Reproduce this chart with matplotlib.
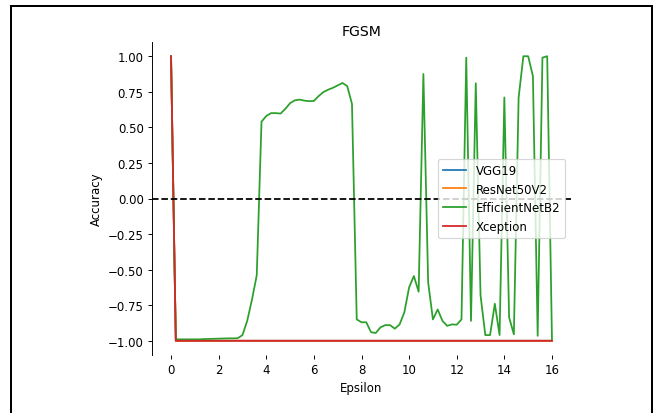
import matplotlib
matplotlib.use("Agg")
import matplotlib.pyplot as plt
from matplotlib.patches import Rectangle

epsilon = [0.0, 0.2, 0.4, 0.6, 0.8, 1.0, 1.2, 1.4, 1.6, 1.8,
           2.0, 2.2, 2.4, 2.6, 2.8, 3.0, 3.2, 3.4, 3.6, 3.8,
           4.0, 4.2, 4.4, 4.6, 4.8, 5.0, 5.2, 5.4, 5.6, 5.8,
           6.0, 6.2, 6.4, 6.6, 6.8, 7.0, 7.2, 7.4, 7.6, 7.8,
           8.0, 8.2, 8.4, 8.6, 8.8, 9.0, 9.2, 9.4, 9.6, 9.8,
           10.0, 10.2, 10.4, 10.6, 10.8, 11.0, 11.2, 11.4, 11.6, 11.8,
           12.0, 12.2, 12.4, 12.6, 12.8, 13.0, 13.2, 13.4, 13.6, 13.8,
           14.0, 14.2, 14.4, 14.6, 14.8, 15.0, 15.2, 15.4, 15.6, 15.8,
           16.0]

vgg19 = [1.0] + [-1.0] * 80
resnet50v2 = [1.0] + [-1.0] * 80
xception = [1.0] + [-1.0] * 80

efficientnetb2 = [1.0, -0.99, -0.99, -0.99, -0.99, -0.99, -0.99, -0.988, -0.987, -0.986,
                  -0.985, -0.984, -0.983, -0.983, -0.982, -0.96, -0.86, -0.71, -0.54, 0.54,
                  0.58, 0.60, 0.60, 0.597, 0.63, 0.67, 0.69, 0.695, 0.688, 0.684,
                  0.686, 0.72, 0.748, 0.765, 0.778, 0.795, 0.812, 0.79, 0.665, -0.85,
                  -0.87, -0.87, -0.94, -0.945, -0.905, -0.89, -0.89, -0.915, -0.885, -0.80,
                  -0.625, -0.545, -0.655, 0.875, -0.59, -0.85, -0.78, -0.86, -0.895, -0.885,
                  -0.887, -0.85, 0.99, -0.86, 0.81, -0.68, -0.96, -0.96, -0.74, -0.96,
                  0.71, -0.835, -0.955, 0.71, 1.0, 1.0, 0.86, -0.965, 0.99, 1.0,
                  -0.99]

series = [("VGG19", vgg19), ("ResNet50V2", resnet50v2),
          ("EfficientNetB2", efficientnetb2), ("Xception", xception)]

DPI = 85
fig = plt.figure(figsize=(659/DPI, 414/DPI), dpi=DPI)
ax = fig.add_axes([152/659, 1 - 356/414, (571-152)/659, (356-43)/414])

for name, vals in series:
    ax.plot(epsilon, vals, label=name, linewidth=1.5)

ax.axhline(0, color="black", linestyle="--", linewidth=1.5)

ax.set_title("FGSM")
ax.set_xlabel("Epsilon")
ax.set_ylabel("Accuracy")
ax.set_xticks([0, 2, 4, 6, 8, 10, 12, 14, 16])
ax.set_yticks([1.0, 0.75, 0.5, 0.25, 0.0, -0.25, -0.5, -0.75, -1.0])
ax.set_ylim(-1.1, 1.1)
ax.set_xlim(-0.8, 16.8)
for s in ["top", "right", "bottom"]:
    ax.spines[s].set_visible(False)

ax.legend(loc="center right")

border = Rectangle((10.5/659, -0.05), (651.5-10.5)/659, 1.05 - 6.5/414,
                   transform=fig.transFigure, fill=False, edgecolor="black",
                   linewidth=1.7, clip_on=False)
fig.patches.append(border)

fig.savefig("out.png", dpi=DPI)
